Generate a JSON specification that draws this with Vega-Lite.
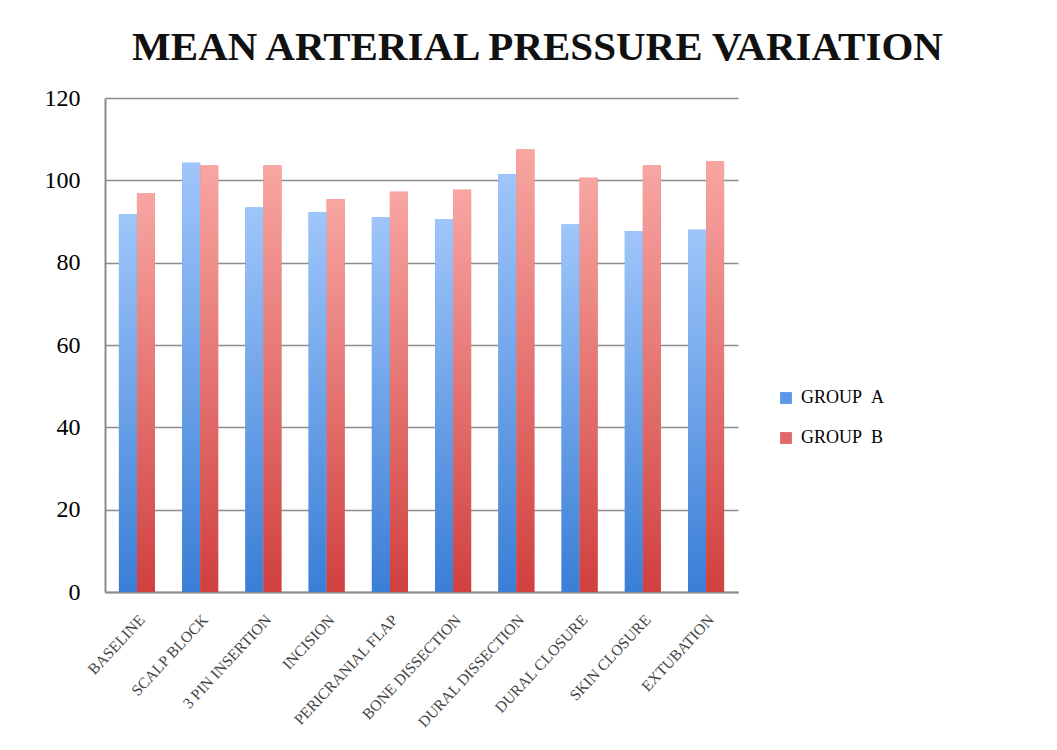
{
  "$schema": "https://vega.github.io/schema/vega-lite/v6.json",
  "autosize": {"type": "none"},
  "width": 633,
  "height": 494,
  "padding": {"left": 105, "top": 98, "right": 319, "bottom": 158},
  "background": "white",
  "config": {"view": {"stroke": null}},
  "title": {
    "text": "MEAN  ARTERIAL  PRESSURE  VARIATION",
    "font": "Liberation Serif",
    "fontSize": 41,
    "fontWeight": "bold",
    "color": "#111111",
    "anchor": "middle",
    "dx": 116,
    "offset": 17
  },
  "data": {
    "values": [
      {"stage": "BASELINE", "group": "GROUP\u00a0\u00a0A", "value": 91.8},
      {"stage": "BASELINE", "group": "GROUP\u00a0\u00a0B", "value": 96.8},
      {"stage": "SCALP BLOCK", "group": "GROUP\u00a0\u00a0A", "value": 104.3},
      {"stage": "SCALP BLOCK", "group": "GROUP\u00a0\u00a0B", "value": 103.6},
      {"stage": "3 PIN INSERTION", "group": "GROUP\u00a0\u00a0A", "value": 93.4},
      {"stage": "3 PIN INSERTION", "group": "GROUP\u00a0\u00a0B", "value": 103.6},
      {"stage": "INCISION", "group": "GROUP\u00a0\u00a0A", "value": 92.3},
      {"stage": "INCISION", "group": "GROUP\u00a0\u00a0B", "value": 95.4},
      {"stage": "PERICRANIAL FLAP", "group": "GROUP\u00a0\u00a0A", "value": 91.1},
      {"stage": "PERICRANIAL FLAP", "group": "GROUP\u00a0\u00a0B", "value": 97.2},
      {"stage": "BONE DISSECTION", "group": "GROUP\u00a0\u00a0A", "value": 90.6},
      {"stage": "BONE DISSECTION", "group": "GROUP\u00a0\u00a0B", "value": 97.7},
      {"stage": "DURAL DISSECTION", "group": "GROUP\u00a0\u00a0A", "value": 101.5},
      {"stage": "DURAL DISSECTION", "group": "GROUP\u00a0\u00a0B", "value": 107.5},
      {"stage": "DURAL CLOSURE", "group": "GROUP\u00a0\u00a0A", "value": 89.3},
      {"stage": "DURAL CLOSURE", "group": "GROUP\u00a0\u00a0B", "value": 100.6},
      {"stage": "SKIN CLOSURE", "group": "GROUP\u00a0\u00a0A", "value": 87.7},
      {"stage": "SKIN CLOSURE", "group": "GROUP\u00a0\u00a0B", "value": 103.6},
      {"stage": "EXTUBATION", "group": "GROUP\u00a0\u00a0A", "value": 88.0},
      {"stage": "EXTUBATION", "group": "GROUP\u00a0\u00a0B", "value": 104.7}
    ]
  },
  "encoding": {
    "x": {
      "field": "stage",
      "type": "nominal",
      "sort": null,
      "scale": {"paddingInner": 0.43, "paddingOuter": 0.22},
      "axis": {
        "title": null,
        "labelAngle": -47,
        "labelAlign": "right",
        "labelBaseline": "top",
        "labelFont": "Liberation Serif",
        "labelFontSize": 15.5,
        "labelColor": "#444444",
        "labelPadding": 20,
        "labelLimit": 300,
        "ticks": false,
        "domainColor": "#8c8c8c",
        "domainWidth": 2,
        "grid": false
      }
    },
    "xOffset": {"field": "group", "type": "nominal", "scale": {"domain": ["GROUP\u00a0\u00a0A", "GROUP\u00a0\u00a0B"], "paddingInner": 0}},
    "y": {
      "field": "value",
      "type": "quantitative",
      "scale": {"domain": [0, 120]},
      "axis": {
        "title": null,
        "values": [0, 20, 40, 60, 80, 100, 120],
        "labelFont": "Liberation Serif",
        "labelFontSize": 24,
        "labelColor": "#000000",
        "labelPadding": 25,
        "ticks": false,
        "domainColor": "#8c8c8c",
        "domainWidth": 2,
        "gridColor": "#8c8c8c",
        "gridWidth": 1.5
      }
    }
  },
  "layer": [
    {
      "mark": {"type": "bar"},
      "encoding": {
        "color": {
          "field": "group",
          "type": "nominal",
          "scale": {"domain": ["GROUP\u00a0\u00a0A", "GROUP\u00a0\u00a0B"], "range": ["#5b97e8", "#e06868"]},
          "legend": {
            "title": null,
            "orient": "none",
            "legendX": 672,
            "legendY": 291,
            "symbolType": "square",
            "symbolSize": 140,
            "symbolStrokeWidth": 0,
            "labelFont": "Liberation Serif",
            "labelFontSize": 18,
            "labelColor": "#000000",
            "rowPadding": 22,
            "labelOffset": 6
          }
        }
      }
    },
    {
      "mark": {"type": "bar"},
      "encoding": {
        "color": {
          "condition": {
            "test": "indexof(datum.group, 'A') >= 0",
            "value": {"gradient": "linear", "x1": 0, "y1": 0, "x2": 0, "y2": 1, "stops": [{"offset": 0, "color": "#9fc6fa"}, {"offset": 1, "color": "#3a7ed6"}]}
          },
          "value": {"gradient": "linear", "x1": 0, "y1": 0, "x2": 0, "y2": 1, "stops": [{"offset": 0, "color": "#f8a6a2"}, {"offset": 1, "color": "#d0403f"}]}
        }
      }
    }
  ]
}
